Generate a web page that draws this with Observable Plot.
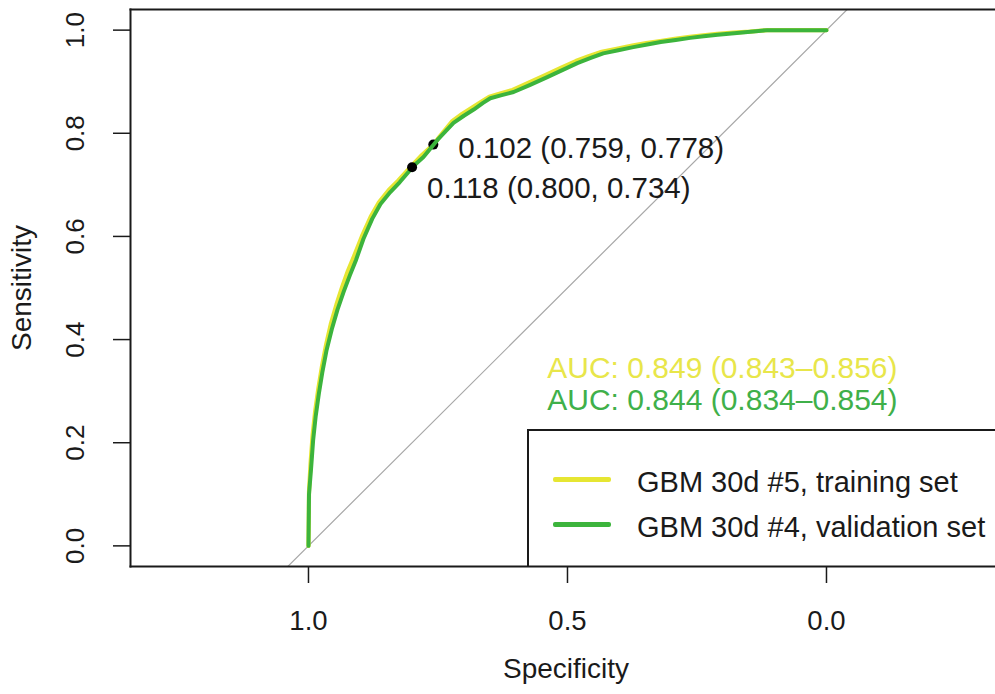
<!DOCTYPE html>
<html>
<head>
<meta charset="utf-8">
<script src="https://cdn.jsdelivr.net/npm/d3@7"></script>
<script src="https://cdn.jsdelivr.net/npm/@observablehq/plot@0.6"></script>
<style>
  html, body { margin: 0; padding: 0; background: #fff; overflow: hidden; }
  #wrap { position: relative; width: 995px; height: 694px; }
  #legend {
    position: absolute; left: 527px; top: 429px; width: 470px; height: 137px;
    box-sizing: border-box; border-top: 2px solid #1a1a1a; border-left: 2px solid #1a1a1a;
    font-family: "Liberation Sans", Arial, sans-serif; font-size: 29px; color: #1a1a1a;
  }
  .sw { position: absolute; left: 24px; width: 58px; height: 4.5px; border-radius: 2px; }
  .lab { position: absolute; left: 108px; white-space: nowrap; line-height: 30px; }
</style>
</head>
<body>
<div id="wrap"></div>
<script>
// ---- Data ----
// Training set ROC curve (GBM 30d #5)
const trainSpec = [1.000, 0.999, 0.996, 0.992, 0.987, 0.981, 0.974, 0.966, 0.957, 0.946, 0.935, 0.924, 0.912, 0.897, 0.880, 0.864, 0.845, 0.827, 0.809, 0.781, 0.759, 0.748, 0.735, 0.722, 0.703, 0.684, 0.665, 0.651, 0.630, 0.606, 0.575, 0.542, 0.512, 0.484, 0.458, 0.434, 0.405, 0.375, 0.348, 0.321, 0.293, 0.264, 0.238, 0.211, 0.180, 0.148, 0.114, 0.056, 0.000];
const trainSens = [0.000, 0.105, 0.160, 0.215, 0.262, 0.305, 0.348, 0.390, 0.430, 0.468, 0.502, 0.533, 0.562, 0.600, 0.638, 0.666, 0.690, 0.708, 0.728, 0.758, 0.778, 0.792, 0.808, 0.824, 0.838, 0.850, 0.862, 0.871, 0.877, 0.884, 0.898, 0.913, 0.927, 0.940, 0.950, 0.958, 0.964, 0.970, 0.975, 0.979, 0.983, 0.987, 0.990, 0.993, 0.995, 0.997, 1.000, 1.000, 1.000];
// Validation set ROC curve (GBM 30d #4)
const validSpec = [1.000, 0.999, 0.995, 0.991, 0.986, 0.980, 0.973, 0.965, 0.955, 0.944, 0.932, 0.920, 0.908, 0.894, 0.877, 0.861, 0.842, 0.824, 0.807, 0.800, 0.778, 0.751, 0.736, 0.720, 0.700, 0.681, 0.663, 0.649, 0.627, 0.604, 0.572, 0.539, 0.509, 0.481, 0.455, 0.431, 0.402, 0.373, 0.346, 0.320, 0.291, 0.263, 0.237, 0.210, 0.178, 0.147, 0.114, 0.056, 0.000];
const validSens = [0.000, 0.100, 0.150, 0.205, 0.252, 0.295, 0.338, 0.380, 0.420, 0.458, 0.493, 0.525, 0.555, 0.595, 0.634, 0.663, 0.686, 0.705, 0.725, 0.734, 0.754, 0.787, 0.803, 0.820, 0.834, 0.846, 0.859, 0.868, 0.874, 0.880, 0.894, 0.909, 0.923, 0.936, 0.946, 0.955, 0.961, 0.967, 0.972, 0.977, 0.981, 0.985, 0.988, 0.991, 0.994, 0.997, 1.000, 1.000, 1.000];

// Best thresholds
const thrLabels = ["0.102 (0.759, 0.778)", "0.118 (0.800, 0.734)"];
const thrSpec = [0.759, 0.800];
const thrSens = [0.778, 0.734];

// AUC labels
const aucLabels = ["AUC: 0.849 (0.843\u20130.856)", "AUC: 0.844 (0.834\u20130.854)"];
const aucSpec = [0.539, 0.539];
const aucSens = [0.345, 0.283];

// Series / legend
const seriesNames = ["GBM 30d #5, training set", "GBM 30d #4, validation set"];
const seriesColors = ["#e6e632", "#3cb43c"];
const aucColors = ["#e8e64a", "#3fb04a"];

// Axis ticks
const xTicks = [1.0, 0.5, 0.0];
const yTicks = [0.0, 0.2, 0.4, 0.6, 0.8, 1.0];

// ---- Build tables ----
const train = trainSpec.map((s, i) => ({spec: s, sens: trainSens[i]}));
const valid = validSpec.map((s, i) => ({spec: s, sens: validSens[i]}));
const thr = thrLabels.map((t, i) => ({label: t, spec: thrSpec[i], sens: thrSens[i]}));
const auc = aucLabels.map((t, i) => ({label: t, spec: aucSpec[i], sens: aucSens[i], color: aucColors[i]}));

const xDomain = [1.3436, -0.3263];
const yDomain = [-0.04, 1.04];
// reference diagonal sens = 1 - spec across the plotting region
const diag = xDomain.map(s => ({spec: s, sens: 1 - s}));

const font = "Liberation Sans, Arial, sans-serif";
const ink = "#1a1a1a";

const chart = Plot.plot({
  width: 995,
  height: 694,
  marginLeft: 130,
  marginRight: 0,
  marginTop: 9,
  marginBottom: 128,
  style: {fontFamily: font, fontSize: "27px", color: ink, background: "#fff", overflow: "visible"},
  x: {domain: xDomain},
  y: {domain: yDomain},
  color: {type: "identity"},
  marks: [
    Plot.line(diag, {x: "spec", y: "sens", stroke: "#a8a8a8", strokeWidth: 1.2, clip: true}),
    Plot.line(train, {x: "spec", y: "sens", stroke: seriesColors[0], strokeWidth: 4.2}),
    Plot.dot([thr[0]], {x: "spec", y: "sens", r: 5, fill: "#000", stroke: "none"}),
    Plot.line(valid, {x: "spec", y: "sens", stroke: seriesColors[1], strokeWidth: 4}),
    Plot.dot([thr[1]], {x: "spec", y: "sens", r: 5, fill: "#000", stroke: "none"}),
    Plot.text([thr[0]], {x: "spec", y: "sens", text: "label", textAnchor: "start", dx: 25, dy: 4, fontSize: 29.5, fill: ink}),
    Plot.text([thr[1]], {x: "spec", y: "sens", text: "label", textAnchor: "start", dx: 15, dy: 21, fontSize: 29.5, fill: ink}),
    Plot.text(auc, {x: "spec", y: "sens", text: "label", textAnchor: "start", fill: "color", fontSize: 30}),
    Plot.frame({anchor: "top", stroke: ink, strokeWidth: 2}),
    Plot.frame({anchor: "left", stroke: ink, strokeWidth: 2}),
    Plot.frame({anchor: "bottom", stroke: ink, strokeWidth: 2}),
    Plot.axisX({ticks: xTicks, tickFormat: ".1f", tickSize: 17, tickPadding: 27, fontSize: 27.5, strokeWidth: 1.5, stroke: ink, fill: ink, label: null}),
    Plot.axisY({ticks: yTicks, tickFormat: ".1f", tickSize: 17, tickPadding: 30, tickRotate: -90, fontSize: 26, strokeWidth: 1.5, stroke: ink, fill: ink, label: null}),
    Plot.text(["Specificity"], {frameAnchor: "bottom", textAnchor: "middle", dx: 3, dy: 103, lineAnchor: "middle", fontSize: 28, fill: ink}),
    Plot.text(["Sensitivity"], {frameAnchor: "left", textAnchor: "middle", dx: -108, rotate: -90, lineAnchor: "middle", fontSize: 28, fill: ink})
  ]
});

const wrap = document.getElementById("wrap");
wrap.appendChild(chart);

// Legend (bottom-right box, as in the reference)
const legend = document.createElement("div");
legend.id = "legend";
seriesNames.forEach((name, i) => {
  const sw = document.createElement("div");
  sw.className = "sw";
  sw.style.background = seriesColors[i];
  sw.style.top = (i === 0 ? 46 : 91) + "px";
  const lab = document.createElement("div");
  lab.className = "lab";
  lab.textContent = name;
  lab.style.top = (i === 0 ? 36 : 81) + "px";
  legend.appendChild(sw);
  legend.appendChild(lab);
});
wrap.appendChild(legend);
</script>
</body>
</html>
